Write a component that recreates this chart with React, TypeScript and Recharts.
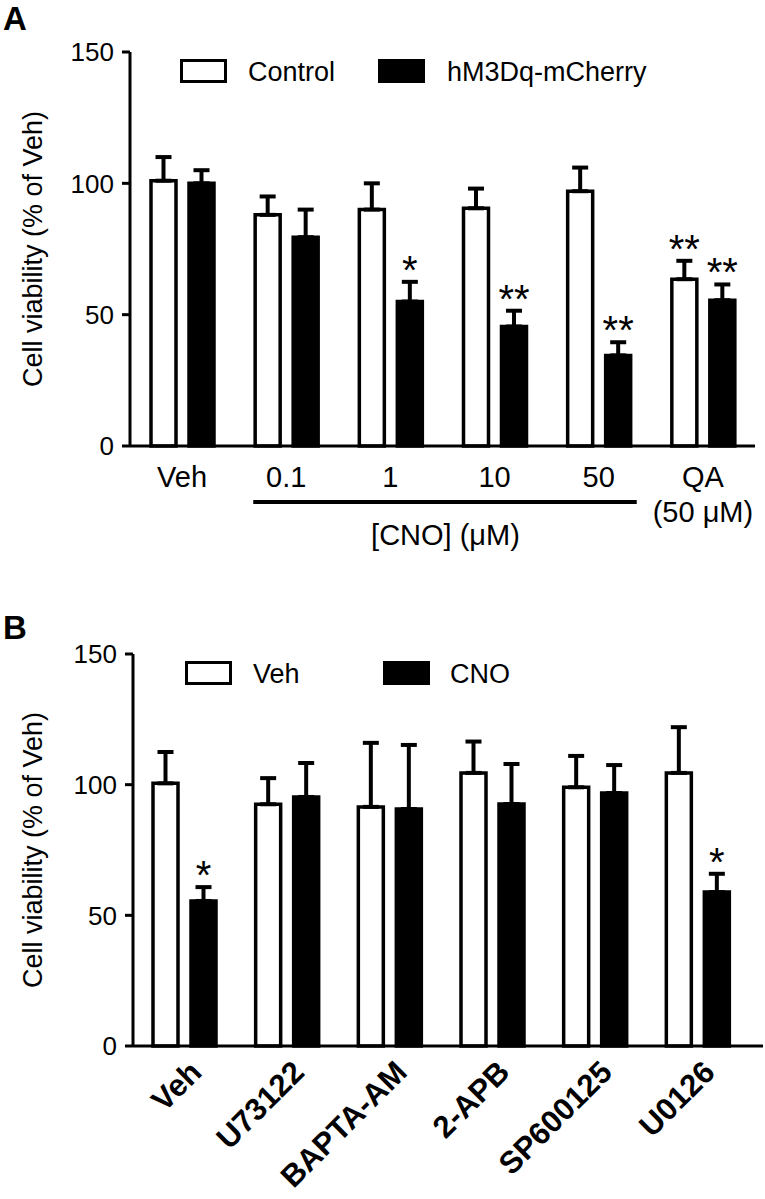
import { BarChart, Bar, XAxis, YAxis, ErrorBar, LabelList } from 'recharts';

const FONT = '"Liberation Sans", Arial, Helvetica, sans-serif';

// ---- panel A data
const catsA = ['Veh', '0.1', '1', '10', '50', 'QA'];
const subLabelsA = ['', '', '', '', '', '(50 μM)'];
const cnoCats = ['0.1', '1', '10', '50'];
const cnoTitle = '[CNO] (μM)';
const controlA = [101, 88, 90, 90.5, 97, 63.5];
const controlErrA = [9, 7, 10, 7.5, 9, 7];
const hm3dqA = [100, 79.5, 55, 45.5, 34.5, 55.5];
const hm3dqErrA = [5, 10.5, 7.5, 6, 5, 6];
const controlStarsA = ['', '', '', '', '', '**'];
const hm3dqStarsA = ['', '', '*', '**', '**', '**'];
const seriesA = ['Control', 'hM3Dq-mCherry'];

// ---- panel B data
const catsB = ['Veh', 'U73122', 'BAPTA-AM', '2-APB', 'SP600125', 'U0126'];
const vehB = [100.5, 92.5, 91.5, 104.5, 99, 104.5];
const vehErrB = [12, 10, 24.5, 12, 12, 17.5];
const cnoB = [55.5, 95.3, 90.7, 92.6, 96.8, 58.9];
const cnoErrB = [5.3, 13, 24.5, 15.3, 10.7, 7];
const vehStarsB = ['', '', '', '', '', ''];
const cnoStarsB = ['*', '', '', '', '', '*'];
const seriesB = ['Veh', 'CNO'];

const yTicks = [0, 50, 100, 150];
const yLabel = 'Cell viability (% of Veh)';

const dataA = catsA.map((cat, i) => ({
  cat,
  s0: controlA[i],
  s0Err: [0, controlErrA[i]],
  s0Star: controlStarsA[i],
  s1: hm3dqA[i],
  s1Err: [0, hm3dqErrA[i]],
  s1Star: hm3dqStarsA[i],
}));

const dataB = catsB.map((cat, i) => ({
  cat,
  s0: vehB[i],
  s0Err: [0, vehErrB[i]],
  s0Star: vehStarsB[i],
  s1: cnoB[i],
  s1Err: [0, cnoErrB[i]],
  s1Star: cnoStarsB[i],
}));

const W = 765;
const BAND_A = (W - 10 - 130) / 6;

// star sits above the error bar; px/unit taken from the bar's own rect
const starLabel = (values: number[], errs: number[]) => (props: any) => {
  const vb = props.viewBox ?? props;
  const { x, y, width, height } = vb;
  const i = props.index;
  const v = props.value;
  if (!v) return null;
  const perUnit = height / values[i];
  const top = y - errs[i] * perUnit;
  return (
    <text x={x + width / 2} y={top + 2} textAnchor="middle" fontSize={40} fontFamily={FONT} fill="#000">
      {v}
    </text>
  );
};

const yAxisLabel = (cy: number) => () => {
  const cx = 42;
  return (
    <text x={cx} y={cy} transform={`rotate(-90 ${cx} ${cy})`} textAnchor="middle" fontSize={27} fontFamily={FONT} fill="#000">
      {yLabel}
    </text>
  );
};

function TickA({ x, y, payload, index }: any) {
  const first = catsA.indexOf(cnoCats[0]);
  return (
    <g>
      <text x={x} y={y + 41} textAnchor="middle" fontSize={29} fontFamily={FONT} fill="#000">
        {payload.value}
      </text>
      {subLabelsA[index] && (
        <text x={x} y={y + 76} textAnchor="middle" fontSize={29} fontFamily={FONT} fill="#000">
          {subLabelsA[index]}
        </text>
      )}
      {index === first && (
        <g>
          <line
            x1={x - 33}
            x2={x + (cnoCats.length - 1) * BAND_A + 38}
            y1={y + 56}
            y2={y + 56}
            stroke="#000"
            strokeWidth={4}
          />
          <text
            x={x + ((cnoCats.length - 1) * BAND_A) / 2 + 3}
            y={y + 99}
            textAnchor="middle"
            fontSize={29}
            fontFamily={FONT}
            fill="#000"
          >
            {cnoTitle}
          </text>
        </g>
      )}
    </g>
  );
}

function TickB({ x, y, payload }: any) {
  const ax = x + 19;
  const ay = y + 28;
  return (
    <text
      x={ax}
      y={ay}
      transform={`rotate(-45 ${ax} ${ay})`}
      textAnchor="end"
      fontSize={31}
      fontWeight="bold"
      fontFamily={FONT}
      fill="#000"
    >
      {payload.value}
    </text>
  );
}

function LegendRow({ names, top, boxX, textX }: { names: string[]; top: number; boxX: number[]; textX: number[] }) {
  const fills = ['#fff', '#000'];
  return (
    <>
      {names.map((n, i) => (
        <div key={n}>
          <div
            style={{
              position: 'absolute',
              left: boxX[i],
              top,
              width: 47,
              height: 24,
              boxSizing: 'border-box',
              border: '3.5px solid #000',
              background: fills[i],
            }}
          />
          <div
            style={{
              position: 'absolute',
              left: textX[i],
              top: top,
              fontSize: 27,
              lineHeight: '27px',
              whiteSpace: 'nowrap',
            }}
          >
            {n}
          </div>
        </div>
      ))}
    </>
  );
}

function Panel({
  data,
  height,
  margin,
  yWidth,
  xHeight,
  tick,
  padRight,
  values,
  names,
}: any) {
  const plotMid = margin.top + (height - margin.top - margin.bottom - xHeight) / 2;
  return (
    <BarChart width={W} height={height} data={data} margin={margin} barGap={13}>
      <XAxis
        dataKey="cat"
        interval={0}
        tickLine={false}
        tickSize={0}
        tickMargin={0}
        height={xHeight}
        axisLine={{ stroke: '#000', strokeWidth: 3 }}
        tick={tick}
        padding={{ left: 0, right: padRight }}
      />
      <YAxis
        domain={[0, 150]}
        ticks={yTicks}
        width={yWidth}
        tickSize={8}
        tickMargin={8}
        axisLine={{ stroke: '#000', strokeWidth: 3 }}
        tickLine={{ stroke: '#000', strokeWidth: 3 }}
        tick={{ fill: '#000', fontSize: 26, fontFamily: FONT }}
        label={yAxisLabel(plotMid)}
      />
      <Bar dataKey="s0" name={names[0]} fill="#fff" stroke="#000" strokeWidth={3.5} barSize={25} isAnimationActive={false}>
        <ErrorBar dataKey="s0Err" direction="y" width={8} stroke="#000" strokeWidth={4} isAnimationActive={false} />
        <LabelList dataKey="s0Star" content={starLabel(values[0], values[1])} />
      </Bar>
      <Bar dataKey="s1" name={names[1]} fill="#000" stroke="#000" strokeWidth={3.5} barSize={25} isAnimationActive={false}>
        <ErrorBar dataKey="s1Err" direction="y" width={8} stroke="#000" strokeWidth={4} isAnimationActive={false} />
        <LabelList dataKey="s1Star" content={starLabel(values[2], values[3])} />
      </Bar>
    </BarChart>
  );
}

export default function App() {
  const letter = { position: 'absolute' as const, left: 3, fontSize: 33, fontWeight: 'bold' as const, lineHeight: '33px' };
  return (
    <div style={{ position: 'absolute', left: 0, top: 0, width: W, height: 1199, background: '#fff', fontFamily: FONT, color: '#000' }}>
      <div style={{ position: 'absolute', left: 0, top: 0 }}>
        <Panel
          data={dataA}
          height={575}
          margin={{ top: 52, right: 10, left: 0, bottom: 19 }}
          yWidth={130}
          xHeight={110}
          tick={<TickA />}
          padRight={0}
          values={[controlA, controlErrA, hm3dqA, hm3dqErrA]}
          names={seriesA}
        />
      </div>
      <div style={{ position: 'absolute', left: 0, top: 590 }}>
        <Panel
          data={dataB}
          height={609}
          margin={{ top: 64, right: 2, left: 0, bottom: 13 }}
          yWidth={133}
          xHeight={140}
          tick={<TickB />}
          padRight={14}
          values={[vehB, vehErrB, cnoB, cnoErrB]}
          names={seriesB}
        />
      </div>
      <LegendRow names={seriesA} top={59} boxX={[180, 378]} textX={[248, 447]} />
      <LegendRow names={seriesB} top={661} boxX={[185, 383]} textX={[253, 450]} />
      <div style={{ ...letter, top: 2 }}>A</div>
      <div style={{ ...letter, top: 611 }}>B</div>
    </div>
  );
}
